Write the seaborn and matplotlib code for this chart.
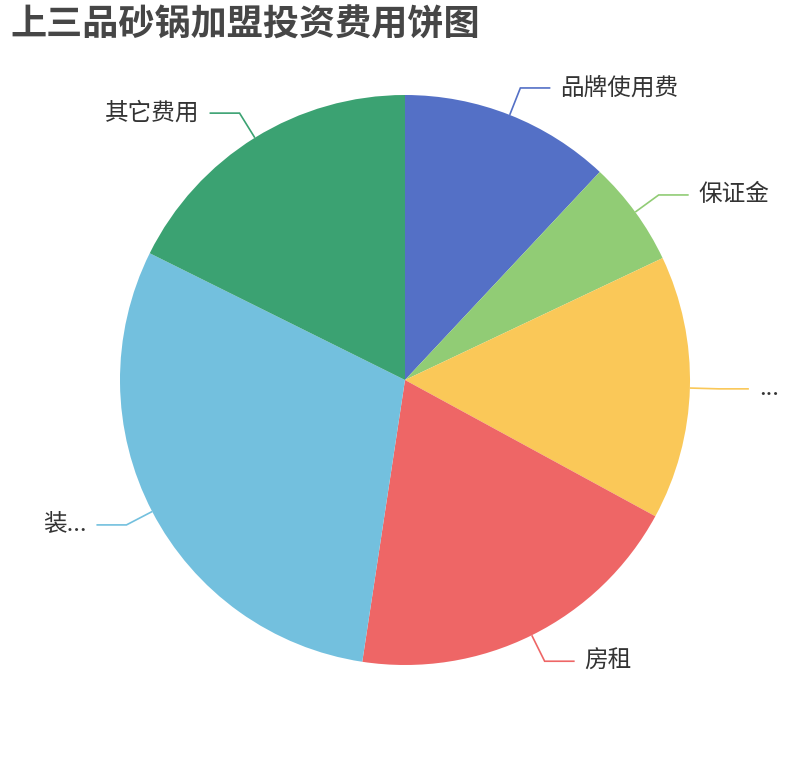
import numpy as np
import matplotlib
matplotlib.use('Agg')
import matplotlib.pyplot as plt
import seaborn as sns

# Datos (proporciones estimadas)
categorias = ['品牌使用费', '保证金', '...', '房租', '装...', '其它费用']
valores = [4, 2, 5, 6.5, 10, 5.9]
colores = ['#5470c6', '#91cc75', '#fac858', '#ee6666', '#73c0de', '#3ba272']
titulo = '上三品砂锅加盟投资费用饼图'

sns.set_style('white')
plt.rcParams['font.family'] = ['Noto Sans CJK SC', 'DejaVu Sans']

W, H = 810, 760
fig = plt.figure(figsize=(W / 100, H / 100), dpi=100)
ax = fig.add_axes([0, 0, 1, 1])

# centro y radio en pixeles (y hacia arriba)
cx, cy, r = 405, H - 380, 285
paleta = sns.color_palette(colores)
wedges, _ = ax.pie(valores, colors=paleta, startangle=90, counterclock=False,
                   center=(cx, cy), radius=r, frame=False,
                   wedgeprops=dict(linewidth=0))

# lineas de etiqueta estilo echarts
largo1, largo2, hueco = 29, 30, 10
for w, nombre, col in zip(wedges, categorias, paleta):
    ang = np.deg2rad((w.theta1 + w.theta2) / 2)
    dx, dy = np.cos(ang), np.sin(ang)
    x0, y0 = cx + r * dx, cy + r * dy
    x1, y1 = cx + (r + largo1) * dx, cy + (r + largo1) * dy
    s = 1 if dx >= 0 else -1
    x2 = x1 + s * largo2
    ax.plot([x0, x1, x2], [y0, y1, y1], color=col, lw=1.2,
            solid_joinstyle='miter', solid_capstyle='butt')
    ax.text(x2 + s * hueco, y1, nombre, ha='left' if s > 0 else 'right',
            va='center', fontsize=17, color='#333333')

ax.set_xlim(0, W)
ax.set_ylim(0, H)
ax.set_aspect('equal')
ax.axis('off')

fig.text(10 / W, 1 - 25 / H, titulo, fontsize=26, fontweight='bold',
         color='#464646', ha='left', va='center')

fig.savefig('out.png', dpi=100, facecolor='white')
